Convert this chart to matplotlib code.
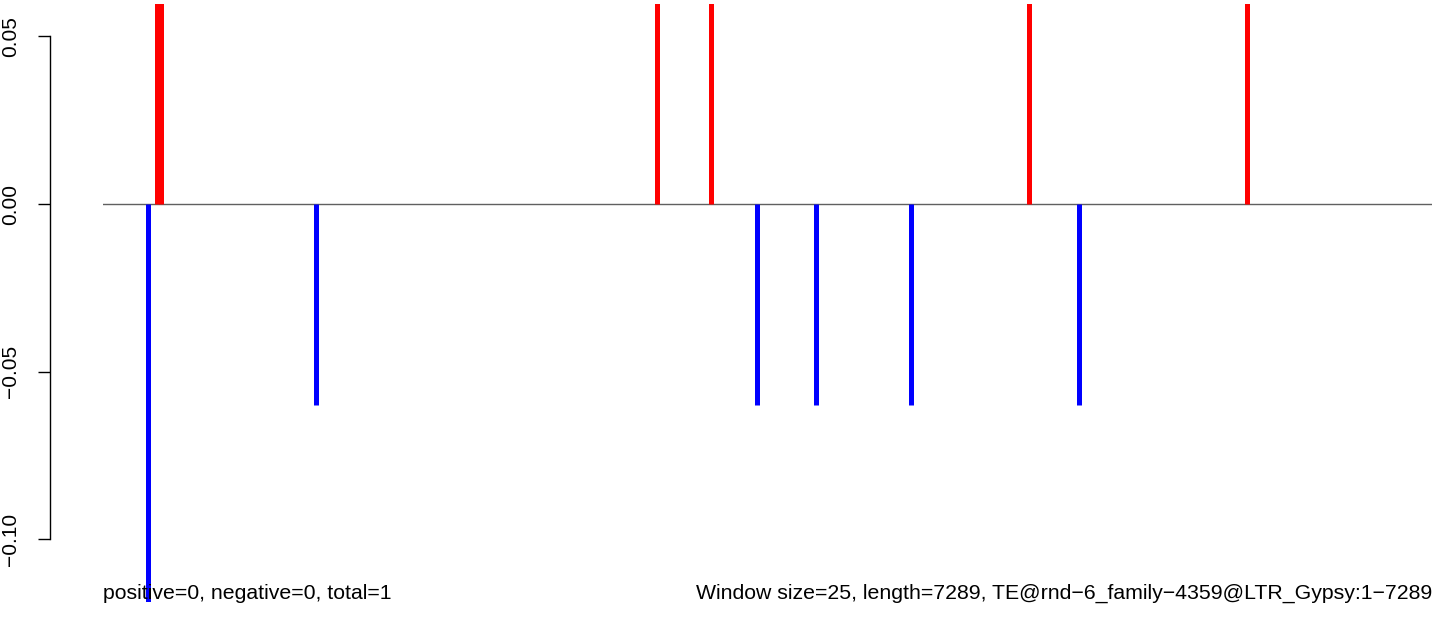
import matplotlib
matplotlib.use("Agg")
import matplotlib.pyplot as plt
import numpy as np

# window index (25 bp windows) and signal for each strand
pos_windows = np.array([12, 13, 122, 134, 204, 252])
pos_values = np.array([0.06, 0.06, 0.06, 0.06, 0.06, 0.06])
neg_windows = np.array([10, 47, 144, 157, 178, 215])
neg_values = np.array([-0.12, -0.06, -0.06, -0.06, -0.06, -0.06])

ytick_values = [-0.10, -0.05, 0.00, 0.05]
ytick_labels = ["\u22120.10", "\u22120.05", "0.00", "0.05"]

left_text = "positive=0, negative=0, total=1"
right_text = "Window size=25, length=7289, TE@rnd\u22126_family\u22124359@LTR_Gypsy:1\u22127289"


def main():
    plt.rcParams['font.family'] = ['Liberation Sans', 'DejaVu Sans']
    W, H = 1444, 623
    fig = plt.figure(figsize=(W / 100, H / 100), dpi=100)
    ax = fig.add_axes([103 / W, (H - 602) / H, (1432 - 103) / W, (602 - 4) / H])

    ax.axhline(0, color='#606060', linewidth=1.0, zorder=1)
    ax.vlines(pos_windows, 0, pos_values, color='red', linewidth=3.6,
              capstyle='butt', zorder=2)
    ax.vlines(neg_windows, 0, neg_values, color='blue', linewidth=3.6,
              capstyle='butt', zorder=2)

    ax.set_xlim(0.2, 292.6)
    ax.set_ylim(-0.1188, 0.0597)

    for side in ['top', 'right', 'bottom']:
        ax.spines[side].set_visible(False)
    ax.spines['left'].set_position(('outward', 38.2))
    ax.spines['left'].set_bounds(-0.10, 0.05)
    ax.spines['left'].set_linewidth(1.0)
    ax.set_xticks([])
    ax.set_yticks(ytick_values)
    ax.set_yticklabels(ytick_labels)
    ax.tick_params(axis='y', length=8.6, width=1.0, pad=13, labelsize=15,
                   labelrotation=90)
    for lab in ax.get_yticklabels():
        lab.set_va('center')

    fig.text(103 / W, (H - 599) / H, left_text, ha='left', va='baseline', fontsize=15.3)
    fig.text(1432 / W, (H - 599) / H, right_text, ha='right', va='baseline', fontsize=15.3)

    fig.savefig("out.png", dpi=100)


if __name__ == '__main__':
    main()
